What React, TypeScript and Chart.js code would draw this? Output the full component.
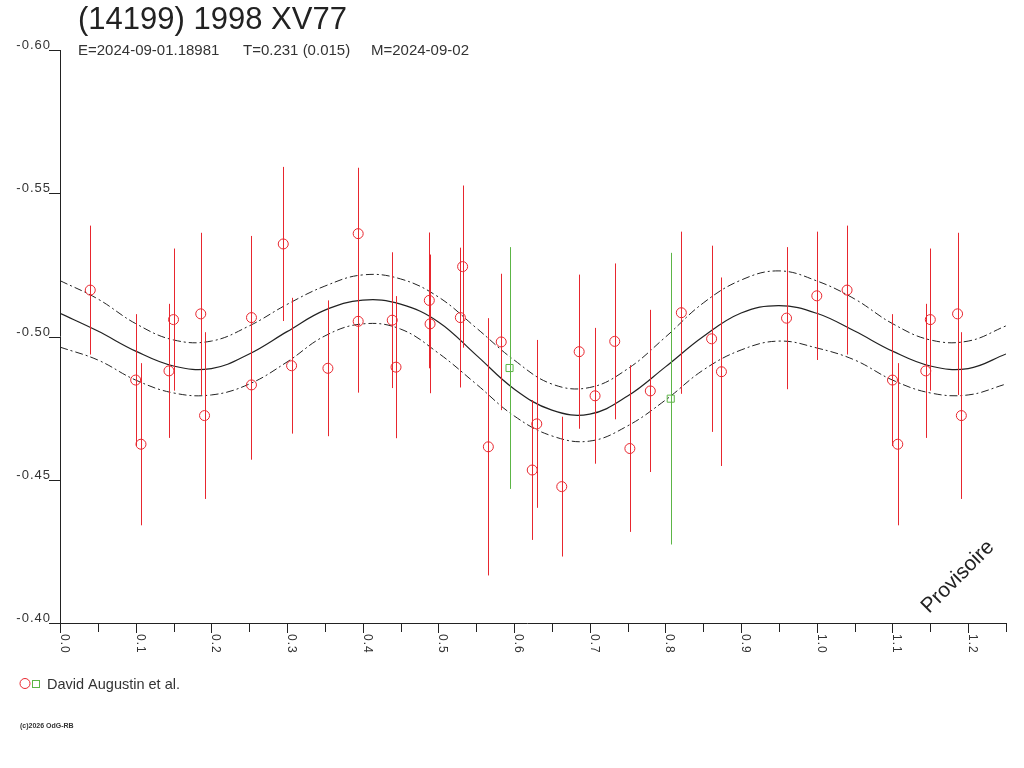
import { useEffect, useRef } from 'react'
import { Chart, registerables } from 'chart.js'

Chart.register(...registerables)

const TITLE = '(14199) 1998 XV77'
const SUB_E = 'E=2024-09-01.18981'
const SUB_T = 'T=0.231 (0.015)'
const SUB_M = 'M=2024-09-02'
const OBSERVER = 'David Augustin et al.'
const COPYRIGHT = '(c)2026 OdG-RB'
const WATERMARK = 'Provisoire'

const Y_TICKS = [-0.6, -0.55, -0.5, -0.45, -0.4]
const Y_LABELS = ['-0.60', '-0.55', '-0.50', '-0.45', '-0.40']
const X_TICKS = [0, 0.1, 0.2, 0.3, 0.4, 0.5, 0.6, 0.7, 0.8, 0.9, 1.0, 1.1, 1.2]
const X_LABELS = ['0.0', '0.1', '0.2', '0.3', '0.4', '0.5', '0.6', '0.7', '0.8', '0.9', '1.0', '1.1', '1.2']

// red observations (phase, reduced mag, 1-sigma)
const RED_PHASE = [
  0.040, 0.100, 0.107, 0.144, 0.150, 0.186, 0.191, 0.253, 0.253, 0.295,
  0.306, 0.354, 0.394, 0.394, 0.439, 0.444, 0.488, 0.489, 0.529, 0.532,
  0.566, 0.583, 0.624, 0.630, 0.663, 0.686, 0.707, 0.733, 0.753, 0.780,
  0.821, 0.861, 0.874, 0.960, 1.000,
]
const RED_MAG = [
  -0.5162, -0.4848, -0.4624, -0.4880, -0.5059, -0.5079, -0.4724, -0.5066, -0.4831, -0.5323,
  -0.4898, -0.4889, -0.5359, -0.5053, -0.5057, -0.4893, -0.5126, -0.5044, -0.5066, -0.5244,
  -0.4615, -0.4981, -0.4534, -0.4695, -0.4476, -0.4947, -0.4793, -0.4983, -0.4609, -0.4810,
  -0.5083, -0.4992, -0.4877, -0.5064, -0.5142,
]
const RED_ERR = [
  0.0225, 0.0230, 0.0283, 0.0234, 0.0248, 0.0283, 0.0291, 0.0285, 0.0261, 0.0269,
  0.0237, 0.0237, 0.0230, 0.0249, 0.0237, 0.0248, 0.0237, 0.0242, 0.0244, 0.0283,
  0.0449, 0.0238, 0.0244, 0.0293, 0.0244, 0.0269, 0.0237, 0.0272, 0.0291, 0.0283,
  0.0283, 0.0325, 0.0329, 0.0248, 0.0224,
]

const GREEN_PHASE = [0.594, 0.807]
const GREEN_MAG = [-0.4890, -0.4783]
const GREEN_ERR = [0.0422, 0.0509]

// fitted curve and its envelope
const FIT_PHASE = [
  0, 0.05, 0.1, 0.15, 0.2, 0.25, 0.3, 0.35, 0.4, 0.45, 0.5, 0.55, 0.6,
  0.65, 0.7, 0.75, 0.8, 0.85, 0.9, 0.95, 1.0, 1.05, 1.1, 1.15, 1.2, 1.25,
]
const FIT_MID = [
  -0.5081, -0.5019, -0.4949, -0.4897, -0.4888, -0.4939, -0.5017, -0.5092, -0.5127, -0.5113,
  -0.5051, -0.4935, -0.4817, -0.4743, -0.4729, -0.4792, -0.4894, -0.5000, -0.5082, -0.5108,
  -0.5081, -0.5019, -0.4949, -0.4897, -0.4888, -0.4939,
]
const FIT_UPPER = [
  -0.5195, -0.5131, -0.5045, -0.4988, -0.4984, -0.5037, -0.5112, -0.5176, -0.5215, -0.5201,
  -0.5138, -0.5030, -0.4918, -0.4834, -0.4822, -0.4887, -0.4998, -0.5117, -0.5197, -0.5229,
  -0.5194, -0.5131, -0.5045, -0.4988, -0.4984, -0.5037,
]
const FIT_LOWER = [
  -0.4963, -0.4918, -0.4848, -0.4803, -0.4796, -0.4834, -0.4911, -0.5002, -0.5044, -0.5026,
  -0.4942, -0.4834, -0.4723, -0.4653, -0.4635, -0.4688, -0.4778, -0.4883, -0.4953, -0.4984,
  -0.4960, -0.4918, -0.4848, -0.4803, -0.4796, -0.4834,
]

const X_MAX = 1.25
const RED = '#e8262e'
const GREEN = '#5cb546'
const INK = '#222'
const FONT = '"Liberation Sans", Arial, sans-serif'

type Pt = { x: number; y: number; e: number }

// points with phase < 0.25 are shown again one cycle later
function withWrap(ph: number[], mg: number[], er: number[]): Pt[] {
  const pts = ph.map((p, i) => ({ x: p, y: mg[i], e: er[i] }))
  const extra = pts.filter((p) => p.x + 1 <= X_MAX).map((p) => ({ ...p, x: p.x + 1 }))
  return [...pts, ...extra]
}

export default function App() {
  const canvasRef = useRef<HTMLCanvasElement>(null)

  useEffect(() => {
    if (!canvasRef.current) return
    const redPts = withWrap(RED_PHASE, RED_MAG, RED_ERR)
    const greenPts = withWrap(GREEN_PHASE, GREEN_MAG, GREEN_ERR)
    const curve = (vals: number[]) => FIT_PHASE.map((p, i) => ({ x: p, y: vals[i] }))

    const decor = {
      id: 'decor',
      afterDatasetsDraw(chart: Chart) {
        const { ctx, chartArea } = chart
        const x = chart.scales.x
        const y = chart.scales.y
        ctx.save()
        ctx.beginPath()
        ctx.rect(chartArea.left, chartArea.top, chartArea.width, chartArea.height)
        ctx.clip()
        ctx.lineWidth = 1
        const bars = (pts: Pt[], color: string) => {
          ctx.strokeStyle = color
          pts.forEach((p) => {
            const px = Math.round(x.getPixelForValue(p.x)) + 0.5
            ctx.beginPath()
            ctx.moveTo(px, y.getPixelForValue(p.y - p.e))
            ctx.lineTo(px, y.getPixelForValue(p.y + p.e))
            ctx.stroke()
          })
        }
        bars(redPts, RED)
        bars(greenPts, GREEN)
        ctx.restore()
      },
      afterDraw(chart: Chart) {
        const { ctx, chartArea } = chart
        const x = chart.scales.x
        const y = chart.scales.y
        const { left, right, top, bottom } = chartArea
        ctx.save()
        ctx.strokeStyle = INK
        ctx.fillStyle = '#333'
        ctx.lineWidth = 1

        // axes
        ctx.beginPath()
        ctx.moveTo(left + 0.5, top)
        ctx.lineTo(left + 0.5, bottom)
        ctx.moveTo(left - 11, Math.round(bottom) + 0.5)
        ctx.lineTo(right, Math.round(bottom) + 0.5)
        ctx.stroke()

        // y ticks
        ctx.font = `13px ${FONT}`
        ctx.letterSpacing = '1px'
        ctx.textAlign = 'right'
        ctx.textBaseline = 'alphabetic'
        Y_TICKS.forEach((v, i) => {
          const py = Math.round(y.getPixelForValue(v)) + 0.5
          ctx.beginPath()
          ctx.moveTo(left - 11, py)
          ctx.lineTo(left, py)
          ctx.stroke()
          ctx.fillText(Y_LABELS[i], left - 9, py - 2)
        })

        // x ticks, every 0.05
        for (let k = 0; k <= 25; k++) {
          const px = Math.round(x.getPixelForValue(k * 0.05)) + 0.5
          ctx.beginPath()
          ctx.moveTo(px, bottom)
          ctx.lineTo(px, bottom + (k % 2 === 0 ? 10 : 9))
          ctx.stroke()
        }
        ctx.font = `12px ${FONT}`
        ctx.textAlign = 'left'
        X_TICKS.forEach((v, i) => {
          const px = Math.round(x.getPixelForValue(v))
          ctx.save()
          ctx.translate(px + 1, bottom + 11)
          ctx.rotate(Math.PI / 2)
          ctx.fillText(X_LABELS[i], 0, 0)
          ctx.restore()
        })
        ctx.letterSpacing = '0px'

        // title block
        ctx.fillStyle = INK
        ctx.font = `31px ${FONT}`
        ctx.fillText(TITLE, 78, 29)
        ctx.fillStyle = '#333'
        ctx.font = `15px ${FONT}`
        ctx.fillText(SUB_E, 78, 55)
        ctx.fillText(SUB_T, 243, 55)
        ctx.fillText(SUB_M, 371, 55)

        // legend
        ctx.strokeStyle = RED
        ctx.beginPath()
        ctx.arc(25, 683.5, 5, 0, Math.PI * 2)
        ctx.stroke()
        ctx.strokeStyle = GREEN
        ctx.strokeRect(32.5, 680.5, 7, 7)
        ctx.fillStyle = '#333'
        ctx.font = `14.5px ${FONT}`
        ctx.fillText(OBSERVER, 47, 689)

        ctx.font = `bold 7px ${FONT}`
        ctx.fillText(COPYRIGHT, 20, 728)

        // watermark
        ctx.save()
        ctx.translate(958, 577)
        ctx.rotate(-Math.PI / 4)
        ctx.fillStyle = INK
        ctx.font = `21px ${FONT}`
        ctx.textAlign = 'center'
        ctx.textBaseline = 'middle'
        ctx.fillText(WATERMARK, 0, 0)
        ctx.restore()

        ctx.restore()
      },
    }

    const envelope = {
      type: 'line' as const,
      showLine: true,
      borderColor: INK,
      borderWidth: 1,
      borderDash: [8, 3, 2, 3],
      pointRadius: 0,
      tension: 0.4,
      fill: false,
    }

    const chart = new Chart(canvasRef.current, {
      type: 'scatter',
      data: {
        datasets: [
          {
            data: redPts.map((p) => ({ x: p.x, y: p.y })),
            pointStyle: 'circle',
            pointRadius: 5,
            borderColor: RED,
            backgroundColor: 'rgba(0,0,0,0)',
            borderWidth: 1,
          },
          {
            data: greenPts.map((p) => ({ x: p.x, y: p.y })),
            pointStyle: 'rect',
            pointRadius: 5,
            borderColor: GREEN,
            backgroundColor: 'rgba(0,0,0,0)',
            borderWidth: 1,
          },
          {
            type: 'line',
            data: curve(FIT_MID),
            showLine: true,
            borderColor: INK,
            borderWidth: 1.2,
            pointRadius: 0,
            tension: 0.4,
            fill: false,
          },
          { ...envelope, data: curve(FIT_UPPER) },
          { ...envelope, data: curve(FIT_LOWER) },
        ],
      },
      options: {
        responsive: false,
        devicePixelRatio: 1,
        animation: false,
        events: [],
        layout: { padding: { left: 60, right: 18, top: 50, bottom: 145 } },
        plugins: { legend: { display: false }, tooltip: { enabled: false } },
        scales: {
          x: { type: 'linear', display: false, min: 0, max: X_MAX },
          y: { type: 'linear', display: false, min: -0.6, max: -0.4, reverse: true },
        },
      },
      plugins: [decor],
    })

    return () => {
      chart.destroy()
    }
  }, [])

  return (
    <div style={{ position: 'absolute', left: 0, top: 0, width: 1024, height: 768, background: '#fff' }}>
      <canvas ref={canvasRef} width={1024} height={768} />
    </div>
  )
}
